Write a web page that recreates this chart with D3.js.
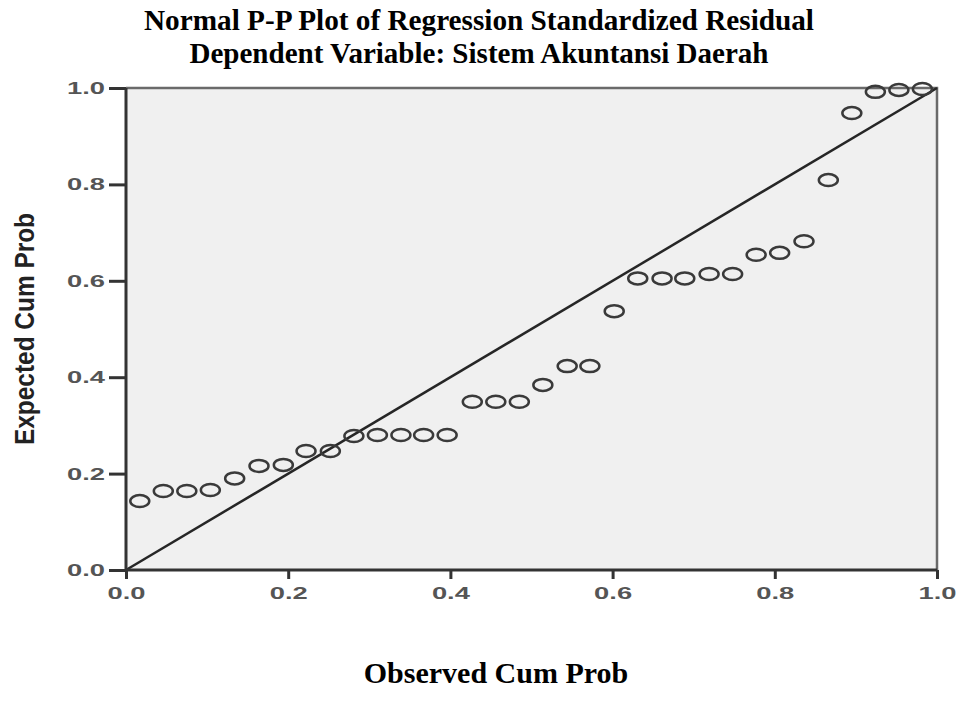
<!DOCTYPE html>
<html>
<head>
<meta charset="utf-8">
<script src="https://cdn.jsdelivr.net/npm/d3@7"></script>
<style>
  body { margin: 0; background: #fff; }
  svg { display: block; }
</style>
</head>
<body>
<svg id="chart" width="959" height="708"></svg>
<script>
// observed cum prob (x) and expected cum prob (y)
var observed = [0.017, 0.046, 0.075, 0.104, 0.134, 0.164, 0.194, 0.222, 0.252, 0.281,
                0.310, 0.339, 0.367, 0.396, 0.427, 0.456, 0.485, 0.514, 0.544, 0.572,
                0.602, 0.631, 0.661, 0.689, 0.719, 0.748, 0.777, 0.806, 0.836, 0.866,
                0.895, 0.924, 0.953, 0.982];
var expected = [0.143, 0.164, 0.164, 0.166, 0.190, 0.216, 0.218, 0.247, 0.247, 0.278,
                0.280, 0.280, 0.280, 0.280, 0.349, 0.349, 0.349, 0.384, 0.423, 0.423,
                0.537, 0.605, 0.605, 0.605, 0.614, 0.614, 0.654, 0.658, 0.682, 0.809,
                0.948, 0.992, 0.996, 0.998];
var ticks = [0, 0.2, 0.4, 0.6, 0.8, 1.0];
var titleLines = ["Normal P-P Plot of Regression Standardized Residual",
                  "Dependent Variable: Sistem Akuntansi Daerah"];

var svg = d3.select('#chart');

var x = d3.scaleLinear().domain([0, 1]).range([126, 937]);
var y = d3.scaleLinear().domain([0, 1]).range([570, 88]);

// plot background
svg.append('rect')
  .attr('x', x(0)).attr('y', y(1))
  .attr('width', x(1) - x(0)).attr('height', y(0) - y(1))
  .attr('fill', '#f0f0f0');

// top / right frame
svg.append('path')
  .attr('d', 'M' + x(0) + ',' + y(1) + 'H' + x(1) + 'V' + y(0))
  .attr('fill', 'none').attr('stroke', '#6a6a6a').attr('stroke-width', 2.5);

// reference diagonal
svg.append('line')
  .attr('x1', x(0)).attr('y1', y(0))
  .attr('x2', x(1)).attr('y2', y(1))
  .attr('stroke', '#262626').attr('stroke-width', 2.5);

// axes
var fmt = d3.format('.1f');
var xAxis = d3.axisBottom(x).tickValues(ticks).tickSize(9).tickPadding(8).tickFormat(fmt);
var yAxis = d3.axisLeft(y).tickValues(ticks).tickSize(17).tickPadding(4).tickFormat(fmt);

var gx = svg.append('g').attr('transform', 'translate(0,' + y(0) + ')').call(xAxis);
var gy = svg.append('g').attr('transform', 'translate(' + x(0) + ',0)').call(yAxis);

[gx, gy].forEach(function(g) {
  g.select('.domain').attr('stroke', '#333').attr('stroke-width', 3);
  g.selectAll('.tick line').attr('stroke', '#333').attr('stroke-width', 3);
  g.selectAll('.tick text')
    .attr('fill', '#555')
    .style('font-family', 'Liberation Sans, Arial, sans-serif')
    .style('font-size', '17px')
    .style('font-weight', 'bold')
    .attr('textLength', 38)
    .attr('lengthAdjust', 'spacingAndGlyphs');
});
gx.select('.domain').attr('d', 'M' + x(0) + ',0H' + x(1));
gy.select('.domain').attr('d', 'M0,' + y(0) + 'V' + y(1));

// points
svg.append('g').selectAll('ellipse')
  .data(observed)
  .enter().append('ellipse')
  .attr('cx', function(d) { return x(d); })
  .attr('cy', function(d, i) { return y(expected[i]); })
  .attr('rx', 9.5)
  .attr('ry', 6)
  .attr('fill', 'none')
  .attr('stroke', '#3a3a3a')
  .attr('stroke-width', 2.5);

// title
svg.append('g').selectAll('text')
  .data(titleLines)
  .enter().append('text')
  .attr('x', 479)
  .attr('y', function(d, i) { return 30 + i * 33; })
  .attr('text-anchor', 'middle')
  .attr('textLength', function(d, i) { return i === 0 ? 670 : 579; })
  .attr('lengthAdjust', 'spacingAndGlyphs')
  .style('font-family', 'Liberation Serif, Times New Roman, serif')
  .style('font-weight', 'bold')
  .style('font-size', '30px')
  .text(function(d) { return d; });

// axis labels
svg.append('text')
  .attr('x', 496)
  .attr('y', 683)
  .attr('text-anchor', 'middle')
  .style('font-family', 'Liberation Serif, Times New Roman, serif')
  .style('font-weight', 'bold')
  .style('font-size', '30px')
  .text('Observed Cum Prob');

svg.append('text')
  .attr('transform', 'translate(34,329) rotate(-90)')
  .attr('text-anchor', 'middle')
  .attr('textLength', 232)
  .attr('lengthAdjust', 'spacingAndGlyphs')
  .attr('fill', '#222')
  .style('font-family', 'Liberation Sans, Arial, sans-serif')
  .style('font-weight', 'bold')
  .style('font-size', '28px')
  .text('Expected Cum Prob');
</script>
</body>
</html>
